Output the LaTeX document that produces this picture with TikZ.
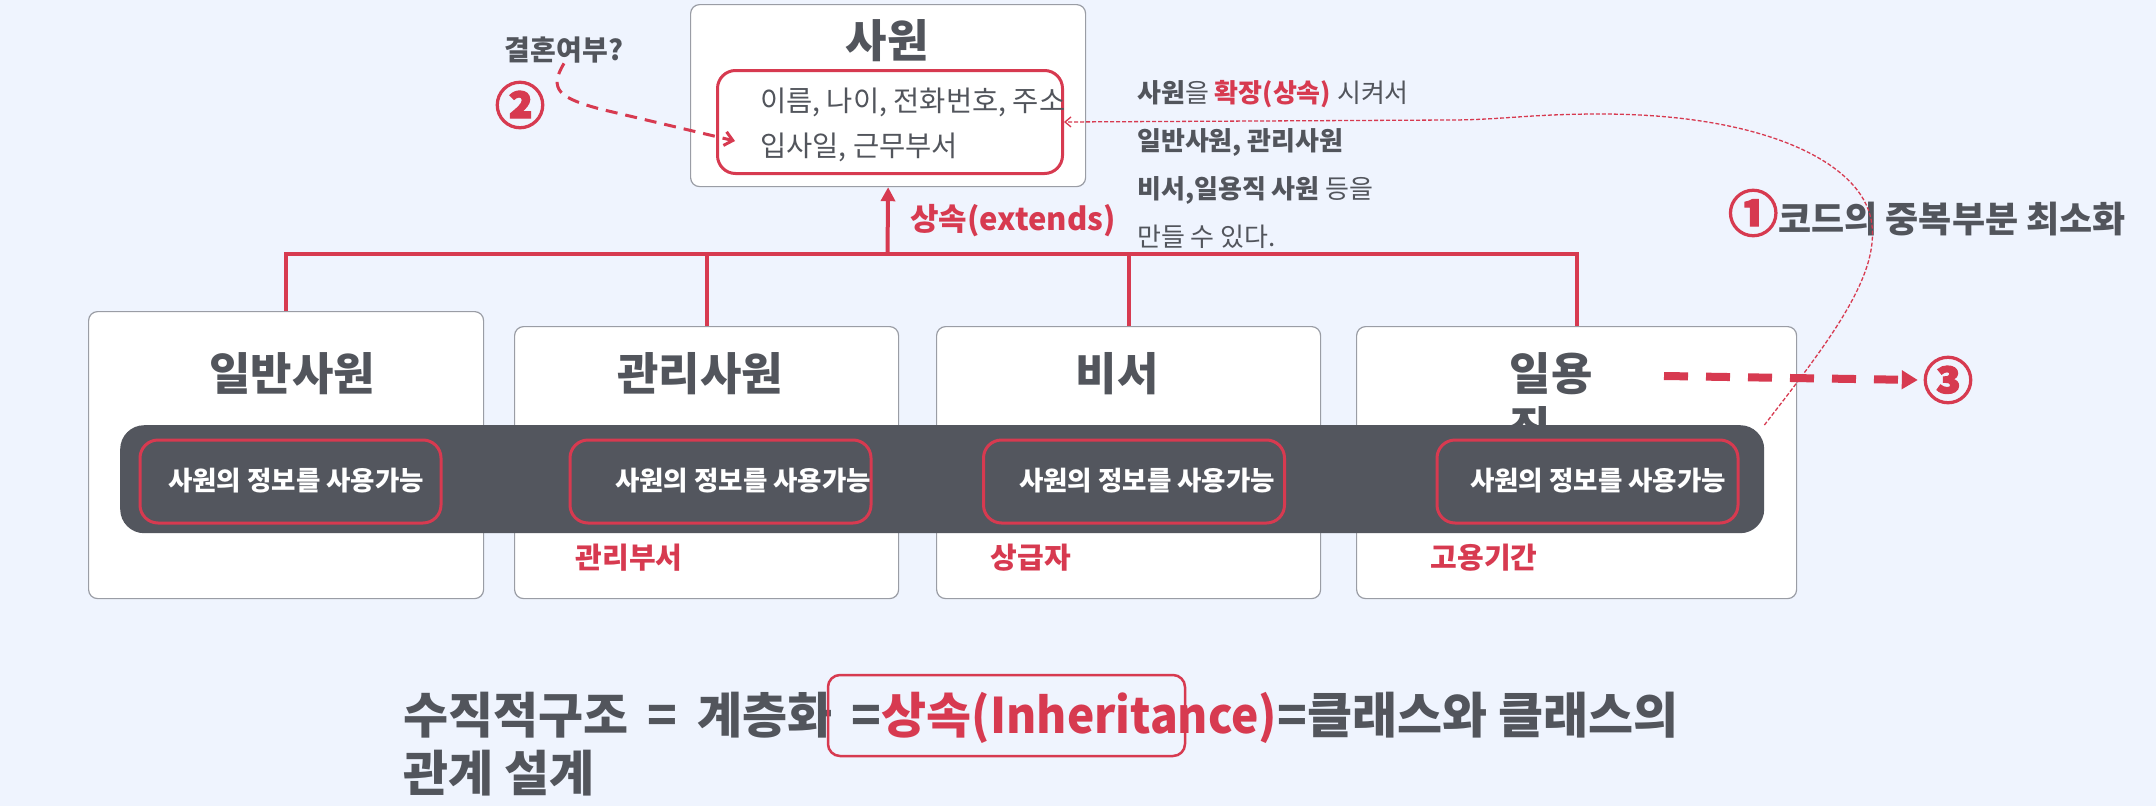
\documentclass[tikz,border=0pt]{standalone}
\usepackage{fontspec}
\setmainfont{Noto Sans CJK KR}
\usetikzlibrary{arrows.meta}

\definecolor{paper}{HTML}{EFF4FE}
\definecolor{accent}{HTML}{D73A50}
\definecolor{ink}{HTML}{52555C}
\definecolor{slab}{HTML}{53565E}
\definecolor{frame}{HTML}{9A9DA5}

\newcommand{\fsz}[2]{\fontsize{#1}{#2}\selectfont}

\tikzset{
  classbox/.style={draw=frame, line width=1.2pt, fill=white, rounded corners=9pt, anchor=north west, inner sep=0pt},
  attrbox/.style={draw=accent, line width=3pt, rounded corners=18pt, anchor=north west, inner sep=0pt},
  ctitle/.style={text=ink, font=\fsz{45}{54}\bfseries, inner sep=0pt},
  attr/.style={text=ink, font=\fsz{28.5}{32}, anchor=west, inner sep=0pt},
  usebox/.style={draw=accent, line width=3pt, rounded corners=18pt, minimum width=301pt, minimum height=83pt, inner sep=0pt},
  usetxt/.style={text=white, font=\fsz{26.5}{30}\bfseries, inner sep=0pt},
  extra/.style={text=accent, font=\fsz{29}{34}\bfseries, inner sep=0pt},
  tree/.style={draw=accent, line width=4pt},
  numtag/.style={text=accent, font=\fsz{50}{54}\bfseries\addfontfeatures{FakeBold=2.5}, inner sep=0pt},
}

\begin{document}
\begin{tikzpicture}[x=1pt,y=-1pt]
\fill[paper] (0,0) rectangle (2156,806);
\useasboundingbox (0,0) rectangle (2156,806);

% superclass
\node[classbox, minimum width=395pt, minimum height=182pt] (emp) at (690,4) {};
\node[ctitle] (empT) at (887,41) {사원};
\node[attrbox, minimum width=345pt, minimum height=103pt] (empAttr) at (716,69) {};
\node[attr] (attr1) at (760,102) {이름, 나이, 전화번호, 주소};
\node[attr] (attr2) at (760,147) {입사일, 근무부서};

% subclasses
\node[classbox, minimum width=395pt, minimum height=287pt] (gen) at (88,311) {};
\node[classbox, minimum width=384pt, minimum height=272pt] (mgr) at (514,326) {};
\node[classbox, minimum width=384pt, minimum height=272pt] (sec) at (936,326) {};
\node[classbox, minimum width=440pt, minimum height=272pt] (day) at (1356,326) {};
\node[ctitle] (genT) at (292,374) {일반사원};
\node[ctitle] (mgrT) at (700,374) {관리사원};
\node[ctitle] (secT) at (1117,374) {비서};
\node[ctitle, align=left] (dayT) at (1551,401) {일용\\직};

% inheritance tree
\coordinate (bus) at (887.5,254);
\draw[tree] (gen.north) |- (bus) -| (day.north);
\draw[tree] (mgr.north) -- (mgr.north |- bus);
\draw[tree] (sec.north) -- (sec.north |- bus);
\draw[tree, -{Triangle[length=14pt,width=14pt]}] (bus) -- (emp.south);
\node[text=accent, font=\fsz{31}{36}\bfseries, inner sep=0pt] (ext) at (1013,221) {상속(extends)};

% shared part
\node[fill=slab, rounded corners=24pt, minimum width=1644pt, minimum height=108pt, anchor=north west, inner sep=0pt] (shared) at (120,425) {};
\node[usebox] (use1) at (290.5,481.5) {};
\node[usebox] (use2) at (720.5,481.5) {};
\node[usebox] (use3) at (1134,481.5) {};
\node[usebox] (use4) at (1587.5,481.5) {};
\node[usetxt] (use1T) at (296,481) {사원의 정보를 사용가능};
\node[usetxt] (use2T) at (743,481) {사원의 정보를 사용가능};
\node[usetxt] (use3T) at (1147,481) {사원의 정보를 사용가능};
\node[usetxt] (use4T) at (1598,481) {사원의 정보를 사용가능};

% extra fields
\node[extra] (mgrX) at (629,558) {관리부서};
\node[extra] (secX) at (1031,558) {상급자};
\node[extra] (dayX) at (1484,558) {고용기간};

% notes
\node[text=ink, font=\fsz{28}{32}\bfseries, inner sep=0pt] (married) at (564,50) {결혼여부?};
\node[numtag] (n2) at (520,105) {②};
\coordinate (n2tip) at (735,141);
\draw[accent, line width=3pt, dash pattern=on 12pt off 8pt, -{Straight Barb[length=8pt,width=14pt]}]
  (married.south) .. controls (548,90) and (560,98) .. (600,109) -- (n2tip);

\node[text=ink, font=\fsz{26}{48}, align=left, anchor=west, inner sep=0pt] (note) at (1137,164)
  {\textbf{사원}을 \textbf{\textcolor{accent}{확장(상속)}} 시켜서\\
   \textbf{일반사원, 관리사원}\\
   \textbf{비서,일용직 사원} 등을\\
   만들 수 있다.};

\node[text=ink, font=\fsz{36}{40}\bfseries, anchor=west, inner sep=0pt] (goal1) at (1728,213)
  {{\fsz{50}{50}\addfontfeatures{FakeBold=2.5}\textcolor{accent}{①}}코드의 중복부분 최소화};

\coordinate (arr3) at (1664,376);
\node[numtag] (n3) at (1948,380) {③};
\draw[accent, line width=8pt, dash pattern=on 24pt off 18pt, -{Triangle[length=16pt,width=18pt]}]
  (arr3) -- ([xshift=-5pt]n3.west);

\draw[accent, line width=1.3pt, dash pattern=on 4pt off 2pt, -{Straight Barb[length=6pt,width=10pt]}]
  (shared.north east) .. controls (1830,340) and (1885,270) .. (1870,215)
  .. controls (1855,160) and (1760,114) .. (1600,114)
  .. controls (1530,114) and (1500,120) .. (1450,120) -- (empAttr.east);

% summary
\node[text=ink, font=\fsz{49}{58}\bfseries, align=left, anchor=west, inner sep=0pt] (summary) at (403,744)
  {수직적구조 \,=\, 계층화 \,=\textcolor{accent}{상속{\addfontfeatures{FakeStretch=0.94}(Inheritance)}}=클래스와 클래스의\\관계 설계};
\draw[accent, line width=2.5pt, rounded corners=12pt] (828,675) rectangle (1185,756);
\end{tikzpicture}
\end{document}
